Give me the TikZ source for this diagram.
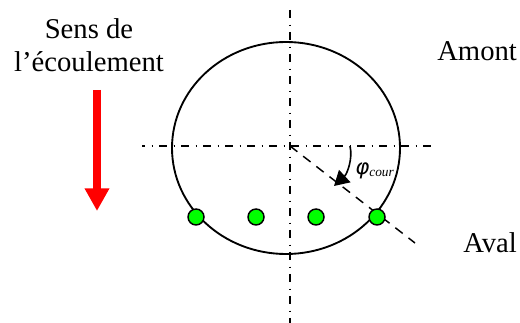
\documentclass[tikz,border=0pt]{standalone}
\usepackage{fontspec}
\setmainfont{Liberation Serif}
\usetikzlibrary{arrows.meta}
\newfontfamily\symfont{DejaVu Sans}
\definecolor{dotgreen}{RGB}{0,255,0}
\tikzset{
  x=0.75pt,y=-0.75pt,
  label text/.style={font=\fontsize{21.5}{25}\selectfont,inner sep=0pt,align=center},
  axis/.style={line width=1.1pt,dash pattern=on 6pt off 5pt on 1pt off 4.5pt},
  sensor/.style={circle,draw=black,fill=dotgreen,line width=1.1pt,minimum size=12pt,inner sep=0pt},
}
\begin{document}
\begin{tikzpicture}
\useasboundingbox (0,0) rectangle (520,323);
\node[label text] (sens) at (89,45) {Sens de\\l’écoulement};
\node[label text,anchor=west] (amont) at (437,51) {Amont};
\node[label text,anchor=west] (aval) at (463,243) {Aval};
\coordinate (c) at (286,148);
\coordinate (o) at (290,146);
\draw[line width=1.4pt] (c) ellipse [x radius=114,y radius=106];
\coordinate (vt) at (290,10);
\coordinate (vb) at (290,323);
\coordinate (hl) at (142,146);
\coordinate (hr) at (432,146);
\draw[axis] (vt) -- (vb);
\draw[axis,dash phase=3.75pt] (hl) -- (hr);
\coordinate (de) at (415,243);
\draw[line width=1.1pt,dash pattern=on 7pt off 5.5pt] (o) -- (de);
\node[sensor] (s1) at (196,217) {};
\node[sensor] (s2) at (256,217) {};
\node[sensor] (s3) at (316,217) {};
\node[sensor] (s4) at (377,217) {};
\coordinate (as) at (350,146);
\coordinate (ae) at (334,186);
\draw[line width=1.2pt,-{Triangle[length=11pt,width=12.5pt]}] (as) .. controls (353,159) and (347,174) .. (ae);
\coordinate (at) at (97,90);
\coordinate (ab) at (97,211);
\draw[red,line width=6.2pt,-{Triangle[length=17pt,width=17.5pt,sep=0pt]}] (at) -- (ab);
\node[inner sep=0pt,anchor=base west,font=\fontsize{16}{18}\selectfont] (phi) at (355,175) {\symfont\itshape φ\raisebox{-1pt}{\fontsize{10}{12}\selectfont\rmfamily\itshape cour}};
\end{tikzpicture}
\end{document}
